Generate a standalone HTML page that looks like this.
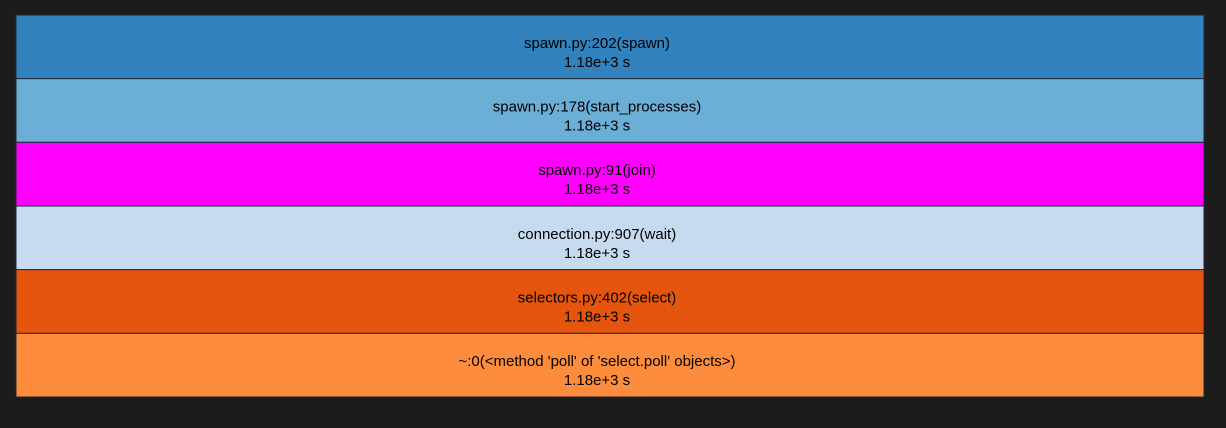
<!DOCTYPE html>
<html><head><meta charset="utf-8"><style>
html,body{margin:0;padding:0;background:#1c1c1c;width:1226px;height:428px;overflow:hidden}
svg{display:block}
text{font-family:"Liberation Sans",Arial,sans-serif;font-size:15px;fill:#000}
</style></head><body>
<svg id="chart" width="1226" height="428"></svg>
<script>
const labels = ["spawn.py:202(spawn)","spawn.py:178(start_processes)","spawn.py:91(join)","connection.py:907(wait)","selectors.py:402(select)","~:0(<method 'poll' of 'select.poll' objects>)"];
const values = [1180,1180,1180,1180,1180,1180];
const valueLabels = ["1.18e+3 s","1.18e+3 s","1.18e+3 s","1.18e+3 s","1.18e+3 s","1.18e+3 s"];
const colors = ["#3182bd","#6baed6","#ff00ff","#c6dbef","#e6550d","#fd8d3c"];
const svg = document.getElementById('chart');
const NS = "http://www.w3.org/2000/svg";
const x0 = 16, x1 = 1204, y0 = 15, y1 = 397;
const maxV = Math.max(...values);
const rowH = (y1 - y0) / labels.length;
const xScale = v => (v / maxV) * (x1 - x0);
labels.forEach((lab, i) => {
  const g = document.createElementNS(NS, 'g');
  
  
  const r = document.createElementNS(NS, 'rect');
  const w = xScale(values[i]);
  const y = y0 + i * rowH;
  r.setAttribute('x', x0); r.setAttribute('y', y);
  r.setAttribute('width', w); r.setAttribute('height', rowH);
  r.setAttribute('fill', colors[i]);
  r.setAttribute('stroke', '#1c2a38'); r.setAttribute('stroke-width', '1');
  
  
  g.appendChild(r);
  const cx = x0 + w / 2 - 13, cy = y + rowH / 2;
  const t1 = document.createElementNS(NS, 'text');
  t1.setAttribute('x', cx); t1.setAttribute('y', cy + 1);
  t1.setAttribute('text-anchor', 'middle');
  t1.textContent = lab;
  
  
  g.appendChild(t1);
  const t2 = document.createElementNS(NS, 'text');
  t2.setAttribute('x', cx); t2.setAttribute('y', cy + 20);
  t2.setAttribute('text-anchor', 'middle');
  t2.textContent = valueLabels[i];
  
  
  g.appendChild(t2);
  svg.appendChild(g);
});
</script>
</body></html>
